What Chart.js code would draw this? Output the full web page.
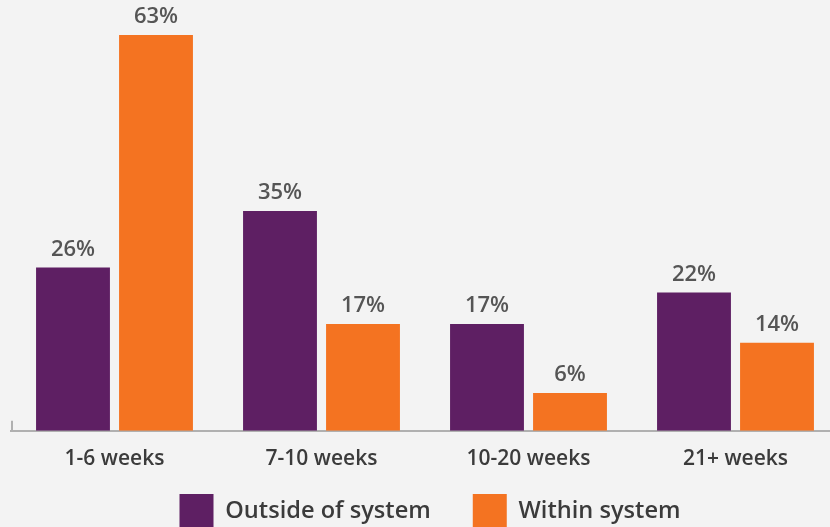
<!DOCTYPE html>
<html>
<head>
<meta charset="utf-8">
<script src="https://cdn.jsdelivr.net/npm/chart.js@4"></script>
<style>
  html, body { margin: 0; padding: 0; background: #f3f3f3; overflow: hidden; }
  #wrap { position: relative; width: 845px; height: 574px; }
</style>
</head>
<body>
<div id="wrap"><canvas id="chart"></canvas></div>
<script>
const categories = ['1-6 weeks', '7-10 weeks', '10-20 weeks', '21+ weeks'];
const outsideValues = [26, 35, 17, 22];
const withinValues = [63, 17, 6, 14];
const seriesNames = ['Outside of system', 'Within system'];

const PURPLE = '#5e1f63';
const ORANGE = '#f47321';
const TEXT = '#3b3b3b';

// percent labels on top of each bar
const valueLabels = {
    id: 'valueLabels',
    afterDatasetsDraw(chart) {
        const ctx = chart.ctx;
        ctx.save();
        ctx.font = '600 22px "Open Sans"';
        ctx.fillStyle = '#555555';
        ctx.textAlign = 'center';
        ctx.textBaseline = 'bottom';
        chart.data.datasets.forEach((ds, i) => {
            const meta = chart.getDatasetMeta(i);
            meta.data.forEach((bar, j) => {
                ctx.fillText(ds.data[j] + '%', bar.x, bar.y - 7);
            });
        });
        ctx.restore();
    }
};

// small tick at the left end of the base line
const baseTick = {
    id: 'baseTick',
    afterDraw(chart) {
        const ctx = chart.ctx;
        const y = chart.scales.y.getPixelForValue(0);
        const x = chart.chartArea.left + 1;
        ctx.save();
        ctx.strokeStyle = '#b0b0b0';
        ctx.lineWidth = 2;
        ctx.beginPath();
        ctx.moveTo(x, y - 10);
        ctx.lineTo(x, y);
        ctx.stroke();
        ctx.restore();
    }
};

// pull the legend up closer to the axis labels
const legendShift = {
    id: 'legendShift',
    afterLayout(chart) {
        const lg = chart.legend;
        lg.top -= 36;
        lg.bottom -= 36;
        lg.left += 5;
        lg.right += 5;
    }
};

new Chart(document.getElementById('chart'), {
    type: 'bar',
    data: {
        labels: categories,
        datasets: [
            { label: seriesNames[0], data: outsideValues, backgroundColor: PURPLE },
            { label: seriesNames[1], data: withinValues, backgroundColor: ORANGE }
        ]
    },
    options: {
        responsive: true,
        maintainAspectRatio: false,
        animation: false,
        categoryPercentage: 0.802,
        barPercentage: 0.89,
        layout: { padding: { top: 35, left: 11, right: 6, bottom: 0 } },
        scales: {
            x: {
                grid: { display: false, drawTicks: false },
                border: { color: '#b0b0b0', width: 2 },
                ticks: { color: TEXT, font: { family: 'Open Sans', size: 21, weight: '600' }, padding: 16 }
            },
            y: {
                display: false,
                min: 0,
                max: 63
            }
        },
        plugins: {
            legend: {
                position: 'bottom',
                labels: {
                    boxWidth: 34,
                    boxHeight: 34,
                    padding: 42,
                    color: TEXT,
                    font: { family: 'Open Sans', size: 23.6, weight: '600' }
                }
            },
            tooltip: { enabled: false }
        }
    },
    plugins: [valueLabels, baseTick, legendShift]
});
</script>
</body>
</html>
